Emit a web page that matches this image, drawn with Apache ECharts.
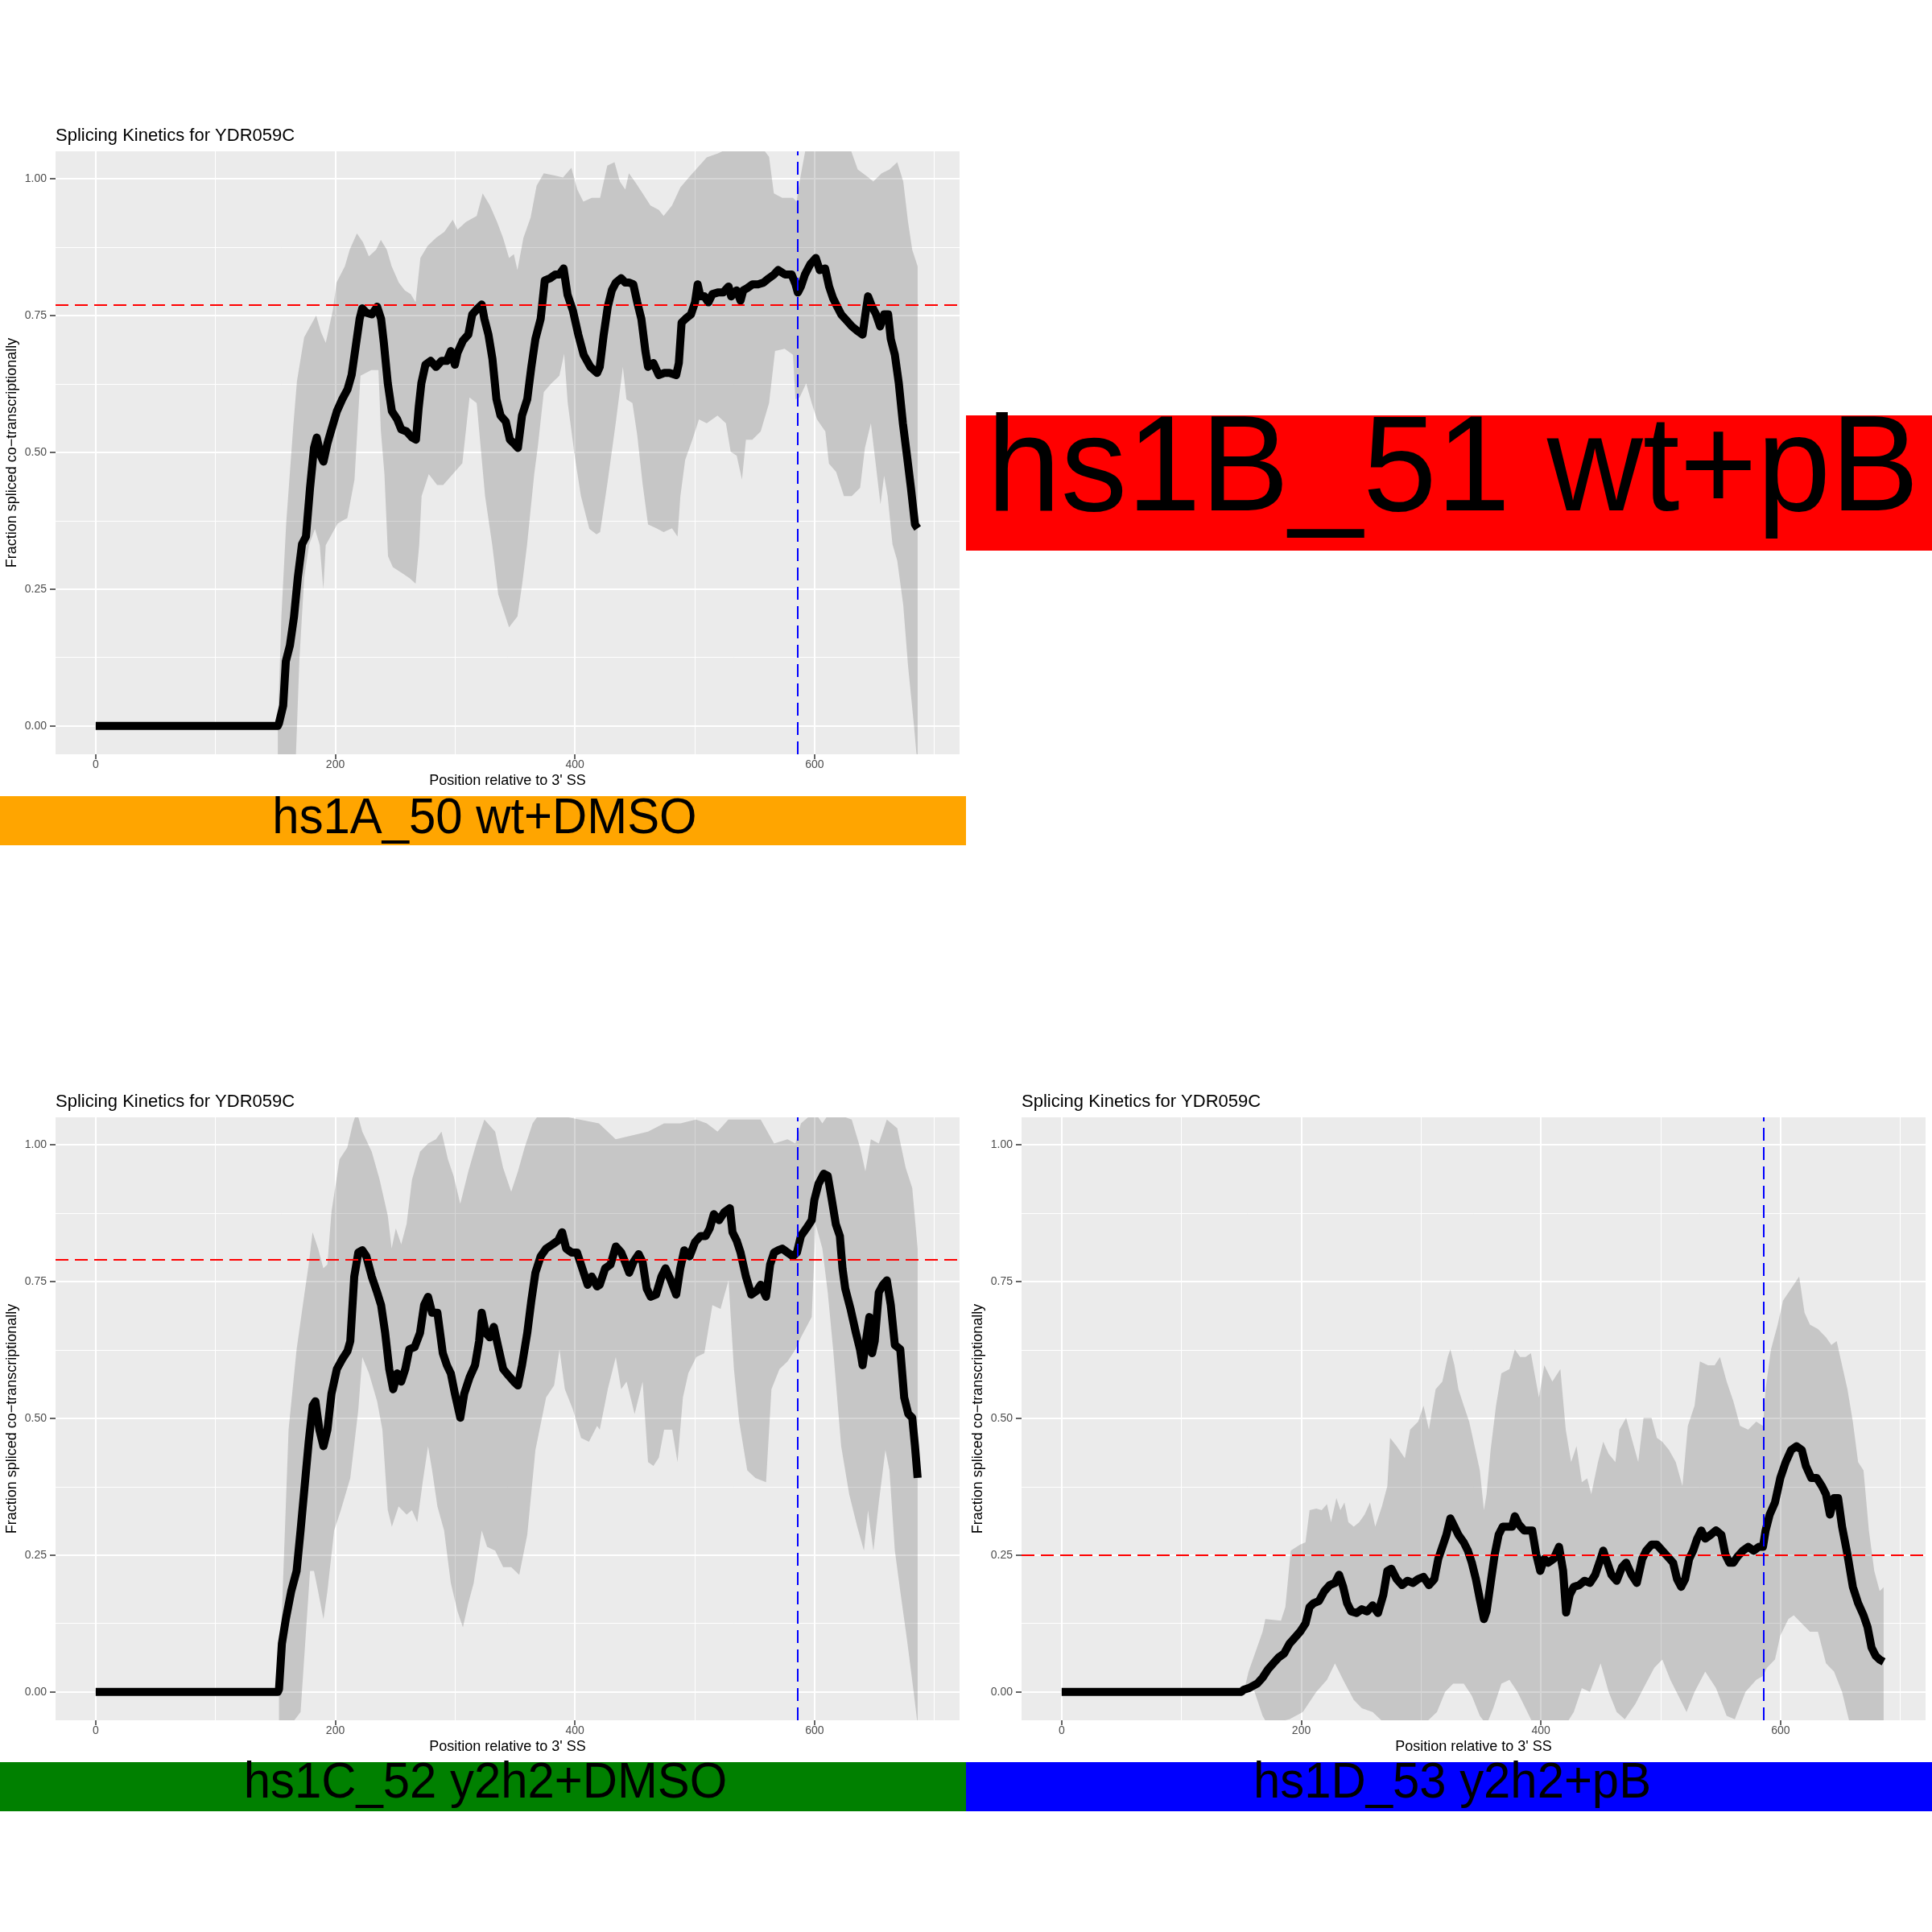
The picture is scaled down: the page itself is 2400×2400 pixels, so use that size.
<!DOCTYPE html>
<html><head><meta charset="utf-8">
<script src="https://cdn.jsdelivr.net/npm/echarts@6/dist/echarts.min.js"></script>
<style>html,body{margin:0;padding:0;background:#fff}#c{width:2400px;height:2400px}</style>
</head><body><div id="c"></div>
<script>
// ---------- text & ticks ----------
const plotTitle = 'Splicing Kinetics for YDR059C';
const xTitle = "Position relative to 3' SS";
const yTitle = 'Fraction spliced co\u2212transcriptionally';
const xTicks = [0, 200, 400, 600];
const xMinorTicks = [100, 300, 500, 700];
const yTicks = [0, 0.25, 0.5, 0.75, 1];
const sampleLabels = ['hs1A_50 wt+DMSO', 'hs1B_51 wt+pB', 'hs1C_52 y2h2+DMSO', 'hs1D_53 y2h2+pB'];
const sampleColors = ['#FFA500', '#FF0000', '#008000', '#0000FF'];
const vRef = 586;

// ---------- hs1A ----------
const refA = 0.767;
const meanA = [[0,0],[152,0],[153,0.005],[156.5,0.037],[158.7,0.118],[162.1,0.147],[165.5,0.199],[168.8,0.273],[172.2,0.332],[175.5,0.346],[178.9,0.435],[182.2,0.508],[184.5,0.527],[187.8,0.494],[190.1,0.483],[193.4,0.516],[196.8,0.542],[201.3,0.575],[205.8,0.597],[210.2,0.615],[213.6,0.641],[217,0.693],[220.3,0.744],[222.5,0.763],[225.9,0.755],[230.4,0.752],[234.9,0.766],[238.2,0.744],[240.5,0.7],[243.8,0.626],[247.2,0.575],[251.7,0.56],[255,0.542],[259.5,0.538],[264,0.527],[267.3,0.523],[269.6,0.582],[271.8,0.626],[275.2,0.66],[279.6,0.667],[284.1,0.656],[288.6,0.667],[293.1,0.667],[296.4,0.685],[299.8,0.66],[302,0.682],[306.5,0.704],[311,0.715],[314.3,0.752],[318.8,0.763],[322.2,0.77],[324.4,0.744],[327.8,0.715],[331.1,0.671],[334.5,0.597],[337.9,0.567],[342.3,0.556],[345.7,0.523],[349,0.516],[352.4,0.508],[355.8,0.567],[360.2,0.597],[363.6,0.656],[367,0.707],[371.4,0.744],[374.8,0.814],[379.3,0.818],[383.8,0.825],[387.1,0.825],[390.5,0.836],[393.8,0.788],[398.3,0.759],[402.8,0.715],[407.3,0.678],[412.9,0.656],[418.5,0.645],[420.7,0.656],[424,0.715],[427.4,0.766],[430.8,0.796],[434.1,0.81],[438.6,0.818],[442,0.81],[445.3,0.81],[448.7,0.807],[452,0.774],[455.4,0.744],[458.8,0.685],[461,0.656],[465.5,0.663],[470,0.641],[474.4,0.645],[478.9,0.645],[484.5,0.641],[486.7,0.663],[489,0.737],[492.3,0.744],[496.8,0.752],[500.2,0.774],[502.4,0.807],[504.7,0.785],[508,0.785],[511.4,0.774],[514.7,0.789],[519.2,0.792],[523.7,0.792],[528.2,0.803],[530.4,0.785],[534.9,0.796],[538.2,0.777],[540.5,0.796],[543.8,0.8],[548.3,0.807],[552.8,0.807],[557.3,0.81],[561.8,0.818],[566.2,0.825],[569.6,0.833],[575.2,0.825],[580.8,0.825],[584.1,0.807],[586,0.792],[588.6,0.803],[592,0.825],[596.5,0.844],[601,0.855],[604.3,0.833],[608.8,0.836],[612.1,0.803],[615.5,0.781],[618.9,0.766],[622.2,0.752],[626.7,0.741],[631.2,0.73],[635.6,0.722],[640.1,0.715],[642.4,0.752],[644.6,0.785],[648,0.766],[651.3,0.752],[654.7,0.73],[658,0.752],[661.4,0.752],[663.6,0.707],[667,0.678],[670.3,0.626],[673.7,0.553],[677.1,0.494],[680.4,0.435],[683.8,0.368],[686,0.361]];
const upperA = [[152,0],[155,0.2],[159,0.37],[165,0.55],[168,0.63],[174,0.71],[179,0.73],[184,0.75],[188,0.72],[192,0.7],[198,0.76],[201,0.81],[208,0.84],[212,0.87],[218,0.9],[223,0.884],[228,0.858],[234,0.87],[238,0.888],[243,0.87],[247,0.84],[253,0.81],[258,0.796],[263,0.789],[267,0.774],[271,0.855],[277,0.877],[284,0.892],[291,0.903],[298,0.925],[302,0.907],[309,0.921],[318,0.932],[323,0.973],[329,0.951],[335,0.921],[340,0.892],[345,0.855],[349,0.862],[352,0.833],[357,0.892],[363,0.929],[368,0.987],[374,1.01],[383,1.006],[390,1.002],[397,1.02],[402,0.98],[407,0.958],[414,0.965],[421,0.965],[427,1.024],[433,1.03],[437.5,0.995],[442,0.98],[445,1.01],[450,0.995],[456.5,0.973],[463,0.951],[470,0.943],[474,0.932],[481,0.951],[488,0.984],[495,1.002],[501,1.017],[510,1.039],[519,1.046],[533,1.06],[555,1.06],[562,1.04],[566,0.973],[573,0.965],[582,0.965],[585,0.958],[587.5,0.995],[593,1.06],[629,1.06],[636,1.017],[645,1.002],[649,0.995],[656,1.01],[662.5,1.017],[669,1.03],[674,0.995],[678,0.921],[681.5,0.87],[686,0.84]];
const lowerA = [[152,-0.06],[167,-0.06],[170,0.12],[174,0.27],[178,0.33],[183,0.36],[187,0.33],[190,0.25],[192,0.33],[197,0.35],[202,0.37],[210,0.38],[216,0.45],[221,0.64],[230,0.65],[236,0.65],[238,0.54],[241,0.46],[244,0.31],[248,0.29],[255,0.28],[262,0.27],[267,0.26],[270,0.33],[272,0.42],[278,0.46],[285,0.44],[290,0.44],[298,0.46],[306,0.48],[312,0.6],[318,0.59],[325,0.42],[331,0.33],[336,0.24],[345,0.18],[352,0.2],[356,0.26],[360,0.33],[366,0.46],[369,0.51],[374,0.61],[380,0.625],[387,0.64],[391,0.68],[394,0.59],[400,0.49],[405,0.42],[412,0.36],[418,0.35],[421,0.354],[427,0.442],[434,0.553],[440,0.656],[443,0.597],[448,0.59],[452,0.531],[456.5,0.442],[461,0.368],[468,0.361],[474,0.354],[481,0.361],[485.6,0.346],[488,0.42],[492,0.486],[498,0.523],[503.5,0.56],[510,0.553],[519,0.567],[526,0.553],[530,0.501],[535,0.494],[539.4,0.45],[542.7,0.523],[548,0.523],[555,0.538],[562,0.59],[567,0.685],[575,0.689],[582,0.678],[584,0.597],[587.5,0.6],[593,0.626],[597.6,0.59],[602,0.56],[609,0.538],[612,0.479],[618,0.464],[624.5,0.42],[631,0.42],[638,0.435],[642,0.508],[647,0.553],[651,0.479],[655,0.405],[658,0.457],[661,0.42],[665,0.332],[669,0.302],[674,0.221],[678,0.11],[683,0],[685,-0.05],[686,-0.06]];

// ---------- hs1C ----------
const refC = 0.79;
const meanC = [[0,0],[152,0],[153,0.005],[155.4,0.088],[158.7,0.133],[163.2,0.184],[167.7,0.221],[171,0.295],[174.4,0.376],[177.8,0.457],[181.1,0.523],[183.4,0.531],[186.7,0.479],[190.1,0.449],[193.4,0.479],[196.8,0.545],[201.3,0.59],[205.8,0.608],[210.2,0.623],[212.5,0.641],[215.8,0.759],[219.2,0.803],[222.5,0.807],[225.9,0.796],[230.4,0.759],[234.9,0.73],[238.2,0.707],[241.6,0.656],[245,0.59],[248.3,0.553],[251.7,0.582],[255,0.567],[258.4,0.59],[261.7,0.626],[266.2,0.63],[270.7,0.656],[274.1,0.707],[277.4,0.722],[280.8,0.693],[285.2,0.693],[289.7,0.619],[293.1,0.597],[296.4,0.582],[299.8,0.545],[304.3,0.501],[307.6,0.545],[312.1,0.575],[316.6,0.597],[320,0.641],[322.2,0.693],[325.5,0.656],[328.9,0.648],[332.3,0.667],[335.6,0.634],[340.1,0.59],[344.6,0.578],[349,0.567],[352.4,0.56],[355.8,0.597],[360.2,0.656],[363.6,0.715],[367,0.766],[371.4,0.796],[375.9,0.81],[381.5,0.818],[386,0.825],[389.3,0.84],[392.7,0.81],[397.2,0.803],[401.7,0.803],[406.1,0.774],[410.6,0.744],[414,0.759],[418.5,0.741],[420.7,0.744],[425.2,0.774],[429.7,0.781],[434.1,0.814],[438.6,0.803],[442,0.785],[445.3,0.766],[448.7,0.785],[453.2,0.8],[456.5,0.785],[459.9,0.737],[463.2,0.722],[467.7,0.726],[472.2,0.759],[475.6,0.774],[480,0.752],[484.5,0.726],[487.9,0.774],[491.2,0.807],[495.7,0.796],[500.2,0.822],[504.7,0.833],[509.1,0.833],[512.5,0.847],[515.9,0.873],[520.3,0.862],[524.8,0.877],[529.3,0.884],[531.5,0.84],[534.9,0.825],[538.2,0.803],[542.7,0.759],[547.2,0.726],[551.7,0.733],[555,0.744],[559.5,0.722],[562.9,0.781],[566.2,0.803],[569.6,0.807],[573,0.81],[577.4,0.803],[581.9,0.796],[585.3,0.803],[588.6,0.833],[593.1,0.847],[597.6,0.862],[599.8,0.899],[603.2,0.928],[607.7,0.947],[611,0.943],[614.4,0.899],[617.7,0.855],[621.1,0.833],[623.3,0.774],[625.6,0.737],[630,0.7],[634.5,0.656],[637.9,0.626],[640.1,0.597],[642.4,0.634],[645.7,0.685],[648,0.619],[650.2,0.641],[653.6,0.73],[657,0.744],[660.3,0.752],[663.6,0.707],[667,0.634],[671.5,0.626],[674.8,0.538],[678.2,0.508],[681.5,0.501],[683.8,0.449],[686,0.391]];
const upperC = [[153,0],[161,0.479],[167.7,0.626],[174.4,0.73],[177.8,0.781],[181,0.84],[185.6,0.81],[190,0.774],[193.4,0.781],[196.8,0.877],[203.5,0.973],[210,0.995],[214.7,1.039],[218,1.06],[222.5,1.024],[230.4,0.987],[237,0.936],[243.8,0.87],[247,0.81],[250.5,0.847],[255,0.818],[259.5,0.855],[264,0.936],[270.7,0.987],[277.4,1.002],[284,1.01],[288.6,1.024],[294,0.973],[298.7,0.943],[304.3,0.892],[311,0.951],[317.7,1.002],[324.4,1.046],[333.4,1.024],[340,0.958],[346.8,0.914],[352.4,0.951],[358,0.995],[364.7,1.039],[371.4,1.06],[420,1.039],[434,1.01],[447.6,1.017],[461,1.024],[474.4,1.039],[488,1.039],[501,1.046],[510,1.039],[519,1.024],[528,1.046],[555,1.046],[566.2,1.002],[577.4,1.01],[584,1.002],[588.6,1.039],[600,1.06],[606.5,1.039],[613,1.06],[631,1.046],[638,0.995],[642.4,0.951],[647,1.01],[653.6,1.002],[660.3,1.046],[669,1.03],[676,0.958],[681.5,0.921],[686,0.81]];
const lowerC = [[153,-0.06],[163,-0.06],[171,-0.037],[174.4,0.074],[178.9,0.221],[182.2,0.221],[185.6,0.184],[190.1,0.133],[193.4,0.184],[199,0.295],[204.6,0.332],[212.5,0.391],[219.2,0.516],[222.5,0.612],[228.1,0.582],[234.9,0.531],[239.3,0.479],[243.8,0.332],[247.2,0.302],[252.8,0.339],[259.5,0.324],[264,0.332],[268.4,0.31],[272.9,0.383],[277.4,0.449],[280.8,0.405],[285.2,0.339],[290.8,0.295],[296.4,0.199],[302,0.147],[306.5,0.118],[311,0.162],[315.5,0.199],[322.2,0.295],[326.7,0.265],[333.4,0.258],[340.1,0.228],[346.8,0.228],[353.5,0.214],[360.2,0.287],[367,0.442],[375.9,0.538],[382.6,0.56],[387.1,0.626],[391.6,0.553],[398.3,0.516],[405.1,0.464],[411.7,0.457],[418.5,0.486],[420.7,0.479],[427.4,0.553],[434.1,0.612],[438.6,0.553],[443.1,0.567],[449.8,0.508],[456.5,0.567],[461,0.42],[465.5,0.413],[470,0.428],[474.4,0.479],[481.2,0.479],[485.6,0.42],[490.1,0.538],[494.6,0.582],[501.3,0.612],[508,0.619],[514.7,0.707],[521.5,0.7],[528.2,0.752],[532.7,0.59],[537.1,0.494],[543.8,0.405],[550.6,0.391],[559.5,0.383],[564,0.553],[570.7,0.59],[577.4,0.604],[584.1,0.626],[588.6,0.648],[597.6,0.685],[600.9,0.855],[606.5,0.81],[611,0.73],[615.5,0.626],[622.2,0.449],[628.9,0.361],[635.6,0.302],[641.2,0.258],[644.6,0.332],[649.1,0.258],[653.6,0.346],[659.1,0.442],[662.5,0.405],[667,0.258],[671.5,0.184],[677.1,0.096],[682.7,0],[686,-0.06]];

// ---------- hs1D ----------
const refD = 0.2454;
const meanD = [[0,0],[150,0],[152,0.004],[156.5,0.007],[163.2,0.015],[167.7,0.026],[172.2,0.041],[176.6,0.052],[181.1,0.063],[185.6,0.07],[190.1,0.088],[194.6,0.099],[199,0.11],[203.5,0.125],[206.9,0.155],[210.2,0.162],[214.7,0.166],[219.2,0.184],[223.7,0.195],[228.1,0.199],[231.5,0.214],[234.9,0.192],[238.2,0.162],[241.6,0.147],[246.1,0.144],[250.5,0.151],[255,0.147],[259.5,0.158],[264,0.144],[268.4,0.177],[271.8,0.221],[275.2,0.225],[279.6,0.206],[284.1,0.195],[288.6,0.203],[293.1,0.199],[297.5,0.206],[302,0.21],[306.5,0.195],[311,0.206],[314.3,0.243],[317.7,0.265],[321.1,0.287],[324.4,0.317],[327.8,0.302],[331.1,0.287],[335.6,0.273],[339,0.258],[342.3,0.236],[345.7,0.206],[349,0.169],[352.4,0.133],[354.6,0.147],[358,0.199],[361.4,0.251],[364.7,0.287],[368.1,0.302],[371.4,0.302],[375.9,0.302],[378.2,0.321],[381.5,0.306],[386,0.295],[389.3,0.295],[392.7,0.295],[396.1,0.251],[399.4,0.221],[402.8,0.243],[406.1,0.236],[410.6,0.243],[415.1,0.265],[418.5,0.221],[421,0.145],[424,0.177],[427.4,0.192],[431.9,0.195],[436.4,0.203],[440.9,0.199],[445.3,0.214],[449.8,0.243],[452,0.258],[455.4,0.236],[458.8,0.214],[463.2,0.203],[467.7,0.228],[471.1,0.236],[475.6,0.214],[480,0.199],[484.5,0.243],[487.9,0.258],[492.3,0.269],[496.8,0.269],[501.3,0.258],[505.8,0.247],[510.3,0.236],[513.6,0.206],[517,0.192],[520.3,0.206],[523.7,0.243],[527,0.258],[530.4,0.28],[533.8,0.295],[537.1,0.28],[541.6,0.287],[546.1,0.295],[550.6,0.287],[553.9,0.251],[557.3,0.236],[560.6,0.236],[564,0.247],[568.5,0.258],[573,0.265],[577.4,0.258],[581.9,0.265],[585.3,0.265],[587.5,0.295],[590.9,0.324],[595.3,0.346],[599.8,0.391],[604.3,0.42],[608.8,0.442],[613.3,0.449],[617.7,0.442],[621.1,0.413],[625.6,0.391],[630.1,0.391],[634.5,0.376],[637.9,0.361],[641.2,0.324],[644.6,0.354],[648,0.354],[651.3,0.302],[655.8,0.251],[660.3,0.192],[664.7,0.162],[669.2,0.14],[672.6,0.118],[675.9,0.081],[679.3,0.066],[682.7,0.059],[686,0.055]];
const upperD = [[152,0],[156,0.037],[167.7,0.11],[170,0.133],[183,0.13],[186.7,0.155],[191.2,0.258],[199,0.269],[203.5,0.273],[206.9,0.332],[212.5,0.335],[217,0.332],[221.4,0.343],[224.8,0.31],[229.3,0.354],[232.6,0.332],[236,0.346],[239.3,0.31],[243.8,0.302],[248.3,0.31],[252.8,0.324],[257.3,0.346],[261.7,0.302],[267.3,0.339],[271.8,0.376],[274.1,0.464],[279.6,0.449],[286.4,0.427],[290.8,0.479],[297.5,0.494],[302,0.523],[306.5,0.479],[312.1,0.553],[317.7,0.567],[322.2,0.612],[324.4,0.626],[327.8,0.597],[331.1,0.553],[335.6,0.523],[340.1,0.494],[344.6,0.449],[349,0.405],[352.4,0.332],[354.6,0.361],[358,0.442],[362.5,0.523],[367,0.582],[373.7,0.59],[378.2,0.626],[382.6,0.612],[387.1,0.612],[391.6,0.619],[398.3,0.538],[402.8,0.597],[409.5,0.567],[416.2,0.59],[420.7,0.479],[425.2,0.42],[429.7,0.449],[434.1,0.383],[438.6,0.39],[442,0.361],[447.6,0.42],[452,0.457],[456.5,0.435],[462.1,0.42],[465.5,0.479],[471.1,0.501],[475.6,0.464],[481.2,0.42],[485.6,0.501],[492.3,0.501],[496.8,0.464],[501.3,0.457],[506.9,0.442],[512.5,0.42],[518.1,0.376],[522.6,0.486],[528.2,0.523],[532.7,0.604],[539.4,0.597],[545,0.597],[549.4,0.612],[555,0.567],[560.6,0.531],[566.2,0.486],[573,0.479],[579.7,0.494],[585.3,0.486],[587.5,0.553],[592,0.626],[597.6,0.671],[602,0.715],[608.8,0.737],[615.5,0.759],[620,0.693],[624.5,0.671],[631.2,0.663],[637.9,0.648],[642.4,0.634],[646.8,0.641],[651.3,0.597],[655.8,0.553],[660.3,0.494],[664.7,0.42],[669.2,0.405],[673.7,0.295],[678.2,0.221],[682.7,0.184],[686,0.191]];
const lowerD = [[152,0],[154.3,0],[158.7,0.015],[167.7,-0.044],[172,-0.06],[190,-0.05],[201.3,-0.037],[212.5,0],[221.4,0.022],[228.1,0.052],[234.9,0.022],[243.8,-0.015],[250.5,-0.03],[259.5,-0.037],[270.7,-0.06],[302,-0.06],[313.2,-0.037],[320,0],[326.7,0.015],[335.6,0.015],[342.3,-0.007],[349,-0.044],[354.6,-0.06],[360.2,-0.03],[367,0.015],[373.7,0.022],[380.4,0],[387.1,-0.03],[393.8,-0.06],[420.7,-0.06],[427.4,-0.037],[434.1,0.007],[440.9,0],[449.8,0.052],[456.5,0],[463.2,-0.037],[470,-0.05],[478.9,-0.022],[485.6,0.007],[494.6,0.044],[501.3,0.059],[508,0.022],[514.7,-0.007],[521.5,-0.037],[528.2,0],[537.1,0.037],[546.1,0.007],[555,-0.044],[561.8,-0.05],[570.7,0],[579.7,0.022],[585.3,0.029],[588.6,0.044],[595.3,0.059],[599.8,0.103],[606.5,0.133],[611,0.14],[617.7,0.125],[624.5,0.11],[631.2,0.11],[637.9,0.052],[644.6,0.037],[651.3,0],[658,-0.06],[686,-0.06]];

// ---------- layout ----------
const FONT = '"Liberation Sans", Arial, Helvetica, sans-serif';
const L = {left: 69, top: 188, w: 1123, h: 749, xMin: -33.5, xMax: 721, yMin: -0.052, yMax: 1.05};
const xs = L.w / (L.xMax - L.xMin), ys = L.h / (L.yMax - L.yMin);

const panels = [
  {ox: 0, oy: 0, mean: meanA, upper: upperA, lower: lowerA, ref: refA},
  {ox: 0, oy: 1200, mean: meanC, upper: upperC, lower: lowerC, ref: refC},
  {ox: 1200, oy: 1200, mean: meanD, upper: upperD, lower: lowerD, ref: refD}
];
const bands = [
  {i: 0, x: 0, y: 989, w: 1200, h: 61, cx: 602, cy: 1018, fs: 63, sx: 0.95},
  {i: 1, x: 1200, y: 516, w: 1200, h: 168, cx: 1805, cy: 588, fs: 168, sx: 0.98},
  {i: 2, x: 0, y: 2189, w: 1200, h: 61, cx: 603, cy: 2216, fs: 63, sx: 0.95},
  {i: 3, x: 1200, y: 2189, w: 1200, h: 61, cx: 1804, cy: 2216, fs: 63, sx: 0.95}
];

const grid = [], xAxis = [], yAxis = [], series = [], graphic = [];
const hidden = {axisLine: {show: false, onZero: false}, axisTick: {show: false}, axisLabel: {show: false}, splitLine: {show: false}};
const tickFont = {fontSize: 14, color: '#4D4D4D', fontFamily: FONT};
const gbase = {containLabel: false, outerBoundsMode: 'none', show: false};

panels.forEach(p => {
  const px = v => p.ox + L.left + (v - L.xMin) * xs;
  const py = v => p.oy + L.top + (L.yMax - v) * ys;
  graphic.push({type: 'rect', z: -10, silent: true, shape: {x: p.ox + L.left, y: p.oy + L.top, width: L.w, height: L.h}, style: {fill: '#EBEBEB'}});
  graphic.push({type: 'text', x: p.ox + L.left, y: p.oy + 169, silent: true,
    style: {text: plotTitle, font: '22px ' + FONT, fill: '#000', align: 'left', verticalAlign: 'middle', textAlign: 'left', textVerticalAlign: 'middle'}});

  // main data grid
  const gm = grid.length;
  grid.push(Object.assign({left: p.ox + L.left, top: p.oy + L.top, width: L.w, height: L.h}, gbase));
  xAxis.push(Object.assign({gridIndex: gm, type: 'value', min: L.xMin, max: L.xMax, name: xTitle, nameLocation: 'middle', nameGap: 24,
    nameTextStyle: {fontSize: 18, color: '#000', fontFamily: FONT}}, hidden));
  yAxis.push(Object.assign({gridIndex: gm, type: 'value', min: L.yMin, max: L.yMax, name: yTitle, nameLocation: 'middle', nameGap: 45,
    nameTextStyle: {fontSize: 18, color: '#000', fontFamily: FONT}}, hidden));

  // y gridlines / labels
  const gy = grid.length;
  grid.push(Object.assign({left: p.ox + L.left, top: py(yTicks[yTicks.length - 1]), width: L.w, height: py(yTicks[0]) - py(yTicks[yTicks.length - 1])}, gbase));
  xAxis.push({gridIndex: gy, type: 'value', show: false});
  yAxis.push({gridIndex: gy, type: 'value', min: yTicks[0], max: yTicks[yTicks.length - 1], interval: yTicks[1] - yTicks[0],
    axisLine: {show: false, onZero: false}, axisTick: {show: true, length: 7, lineStyle: {color: '#333333', width: 1.5}},
    axisLabel: Object.assign({margin: 11, formatter: v => v.toFixed(2)}, tickFont),
    splitLine: {show: true, lineStyle: {color: '#FFFFFF', width: 2}},
    minorTick: {show: false, splitNumber: 2}, minorSplitLine: {show: true, lineStyle: {color: '#FFFFFF', width: 1}}});

  // x major gridlines / labels
  const gx = grid.length;
  grid.push(Object.assign({left: px(xTicks[0]), top: p.oy + L.top, width: px(xTicks[xTicks.length - 1]) - px(xTicks[0]), height: L.h}, gbase));
  xAxis.push({gridIndex: gx, type: 'value', min: xTicks[0], max: xTicks[xTicks.length - 1], interval: xTicks[1] - xTicks[0],
    axisLine: {show: false, onZero: false}, axisTick: {show: true, length: 6, lineStyle: {color: '#333333', width: 1.5}},
    axisLabel: Object.assign({margin: 6}, tickFont),
    splitLine: {show: true, lineStyle: {color: '#FFFFFF', width: 2}}});
  yAxis.push({gridIndex: gx, type: 'value', show: false});

  // x minor gridlines
  const gx2 = grid.length;
  grid.push(Object.assign({left: px(xMinorTicks[0]), top: p.oy + L.top, width: px(xMinorTicks[xMinorTicks.length - 1]) - px(xMinorTicks[0]), height: L.h}, gbase));
  xAxis.push({gridIndex: gx2, type: 'value', min: xMinorTicks[0], max: xMinorTicks[xMinorTicks.length - 1], interval: xMinorTicks[1] - xMinorTicks[0],
    axisLine: {show: false, onZero: false}, axisTick: {show: false}, axisLabel: {show: false},
    splitLine: {show: true, lineStyle: {color: '#FFFFFF', width: 1}}});
  yAxis.push({gridIndex: gx2, type: 'value', show: false});

  // ribbon
  series.push({type: 'custom', xAxisIndex: gm, yAxisIndex: gm, clip: true, silent: true, z: 2,
    data: [[0, 0]],
    renderItem: (params, api) => {
      const pts = p.upper.map(d => api.coord(d));
      for (let i = p.lower.length - 1; i >= 0; i--) pts.push(api.coord(p.lower[i]));
      return {type: 'polygon', shape: {points: pts}, style: {fill: 'rgba(51,51,51,0.2)'}};
    }});
  // mean line + reference lines
  series.push({type: 'line', xAxisIndex: gm, yAxisIndex: gm, data: p.mean, showSymbol: false, symbol: 'none', clip: true, z: 3, silent: true,
    lineStyle: {color: '#000000', width: 10, join: 'round', cap: 'butt'},
    markLine: {silent: true, symbol: ['none', 'none'], label: {show: false}, animation: false,
      data: [
        {yAxis: p.ref, lineStyle: {color: '#FF0000', width: 2, type: [16, 8]}},
        {xAxis: vRef, lineStyle: {color: '#0000FF', width: 2, type: [16, 8]}}
      ]}});
});

bands.forEach(b => {
  graphic.push({type: 'rect', silent: true, z: 5, shape: {x: b.x, y: b.y, width: b.w, height: b.h}, style: {fill: sampleColors[b.i]}});
  graphic.push({type: 'text', silent: true, z: 6, x: b.cx, y: b.cy, scaleX: b.sx,
    style: {text: sampleLabels[b.i], font: b.fs + 'px ' + FONT, fill: '#000', align: 'center', verticalAlign: 'middle', textAlign: 'center', textVerticalAlign: 'middle'}});
});

const chart = echarts.init(document.getElementById('c'), null, {renderer: 'canvas', width: 2400, height: 2400});
chart.setOption({backgroundColor: '#FFFFFF', animation: false, grid, xAxis, yAxis, series, graphic});
</script></body></html>
